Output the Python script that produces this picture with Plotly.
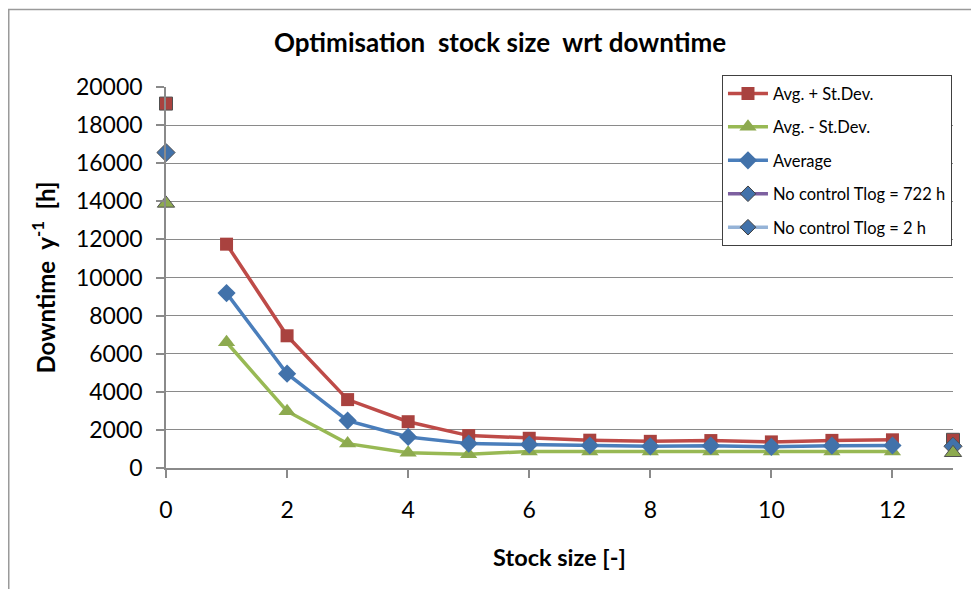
import plotly.graph_objects as go

# ---- data ----
stock_sizes = [1, 2, 3, 4, 5, 6, 7, 8, 9, 10, 11, 12]
avg_plus_sd = [11750, 6940, 3590, 2430, 1700, 1560, 1460, 1400, 1440, 1370, 1450, 1480]
avg_minus_sd = [6600, 2980, 1280, 800, 720, 870, 870, 870, 870, 870, 870, 870]
average = [9180, 4950, 2490, 1630, 1280, 1230, 1180, 1140, 1170, 1110, 1170, 1180]

no_ctrl_722_x = [0, 0, 0]
no_ctrl_722_y = [19130, 16560, 13890]
no_ctrl_2_x = [13, 13, 13]
no_ctrl_2_y = [1480, 1140, 800]

x_tick_vals = [0, 2, 4, 6, 8, 10, 12]
y_tick_vals = [0, 2000, 4000, 6000, 8000, 10000, 12000, 14000, 16000, 18000, 20000]

# ---- style ----
RED_L, RED_M = "#BE4B48", "#A9423F"
GRN_L, GRN_M = "#98B954", "#8DAA4F"
BLU_L, BLU_M = "#4A7EBB", "#4272AA"
PURPLE = "#7D60A0"
LBLUE = "#95B3D7"
FONT = "Lato"
GRID = "#8A8A8A"

fig = go.Figure()

def main_trace(name, x, y, lc, mc, sym, size, grp):
    fig.add_trace(go.Scatter(
        x=x, y=y, name=name, mode="lines+markers", legendgroup=grp,
        line=dict(color=lc, width=3.5),
        marker=dict(symbol=sym, size=size, color=mc, line=dict(width=0), opacity=1),
    ))

main_trace("Avg. + St.Dev.", stock_sizes, avg_plus_sd, RED_L, RED_M, "square", 13, "a")
main_trace("Avg. - St.Dev.", stock_sizes, avg_minus_sd, GRN_L, GRN_M, "triangle-up", 15, "b")
main_trace("Average", stock_sizes, average, BLU_L, BLU_M, "diamond", 14, "c")

point_syms = ["square", "diamond", "triangle-up"]
point_cols = [RED_M, BLU_M, GRN_M]
point_sizes = [13, 14, 15]

for name, x, y, lc, grp in [
    ("No control Tlog = 722 h", no_ctrl_722_x, no_ctrl_722_y, PURPLE, "d"),
    ("No control Tlog = 2 h", no_ctrl_2_x, no_ctrl_2_y, LBLUE, "e"),
]:
    fig.add_trace(go.Scatter(
        x=x, y=y, mode="markers", showlegend=False, cliponaxis=False, legendgroup=grp,
        marker=dict(symbol=point_syms, size=point_sizes, color=point_cols, opacity=1,
                    line=dict(width=1, color="#505050")),
        name=name,
    ))
    fig.add_trace(go.Scatter(
        x=[None], y=[None], mode="lines+markers", name=name, legendgroup=grp,
        line=dict(color=lc, width=3.5),
        marker=dict(symbol="diamond", size=12, color=BLU_M, line=dict(width=1, color="#404040")),
    ))

# page body adds an 8px offset, so figure coords = screen coords - 8
fig.update_layout(
    width=979, height=589,
    margin=dict(l=158, r=34, t=79, b=128.5, autoexpand=False),
    paper_bgcolor="white", plot_bgcolor="white",
    font=dict(family=FONT, color="black"),
    title=dict(text="<b>Optimisation  stock size  wrt downtime</b>",
               font=dict(family=FONT, size=26, color="black"),
               x=0.5026, xanchor="center", y=1 - 35 / 589, yanchor="middle", yref="container"),
    showlegend=True,
    legend=dict(
        x=0.9987, xanchor="right", y=1.031, yanchor="top",
        bordercolor="#404040", borderwidth=1, bgcolor="white",
        font=dict(family=FONT, size=16.5, color="black"),
        tracegroupgap=9, traceorder="grouped", itemwidth=40,
    ),
    shapes=[dict(type="rect", xref="paper", yref="paper",
                 x0=-0.1998, x1=1.2, y0=-0.5, y1=1.2032,
                 line=dict(color="#9A9A9A", width=1.5), layer="below")],
)

fig.update_xaxes(
    range=[0, 13], tickvals=x_tick_vals, showgrid=False, zeroline=False, automargin=False,
    showline=True, linecolor=GRID, linewidth=1.5,
    ticks="outside", ticklen=8, tickcolor=GRID, tickwidth=1.5,
    tickfont=dict(family=FONT, size=23, color="black"), ticklabelstandoff=13,
    title=dict(text="<b>Stock size [-]</b>", font=dict(family=FONT, size=23.5, color="black"), standoff=27),
)
fig.update_yaxes(
    range=[0, 20000], tickvals=y_tick_vals, tickformat="d", showgrid=True, gridcolor=GRID, gridwidth=1.2,
    zeroline=False, showline=True, linecolor=GRID, linewidth=1.5, automargin=False,
    ticks="outside", ticklen=8, tickcolor=GRID, tickwidth=1.5,
    tickfont=dict(family=FONT, size=23, color="black"), ticklabelstandoff=9,
    title=dict(text="<b>Downtime  y<sup>-1</sup>  [h]</b>", font=dict(family=FONT, size=24, color="black"), standoff=14),
)

fig.write_html("out.html")
